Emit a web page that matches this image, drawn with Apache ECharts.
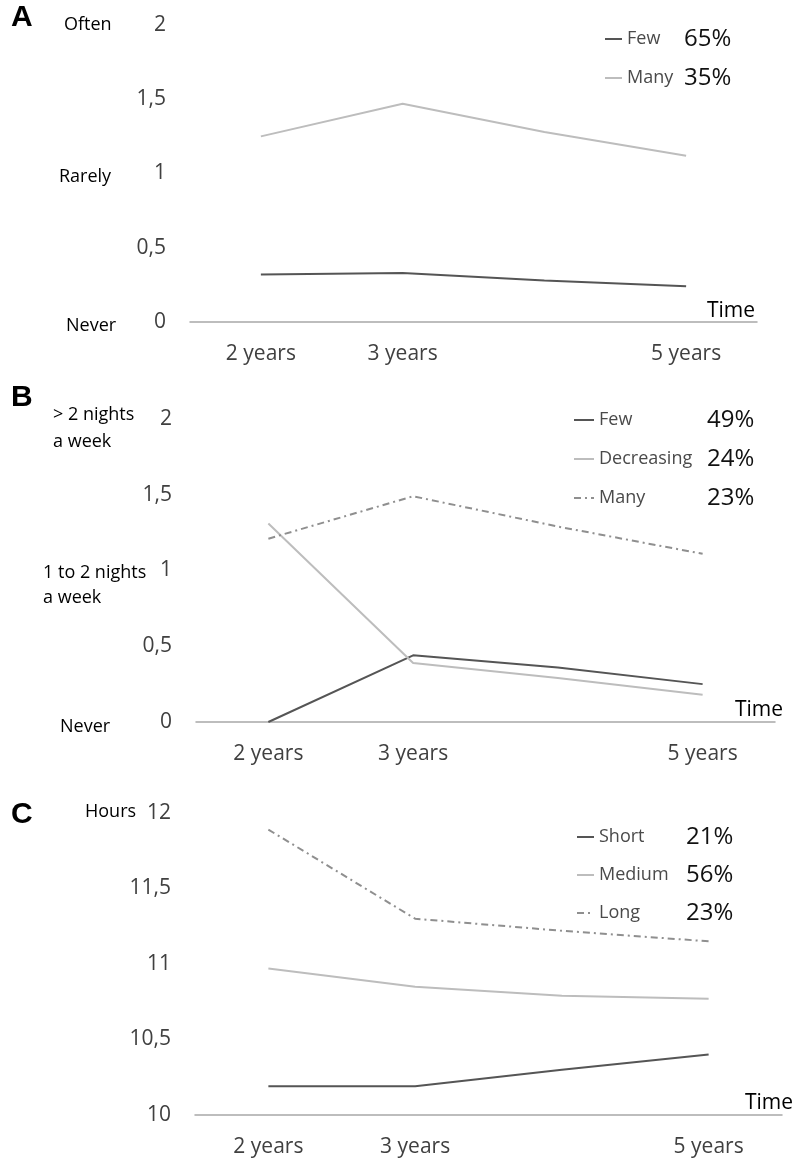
<!DOCTYPE html>
<html>
<head>
<meta charset="utf-8">
<script src="https://cdn.jsdelivr.net/npm/echarts@6/dist/echarts.min.js"></script>
<style>
  html, body { margin: 0; padding: 0; background: #fff; }
  #chart { width: 796px; height: 1167px; }
</style>
</head>
<body>
<div id="chart"></div>
<script>
// ---- data ----
const categories = ['2 years', '3 years', '4 years', '5 years'];
const hiddenCategory = '4 years';

const A_few  = [0.32, 0.33, 0.28, 0.24];
const A_many = [1.25, 1.47, 1.28, 1.12];

const B_few        = [0, 0.44, 0.36, 0.25];
const B_decreasing = [1.31, 0.39, 0.29, 0.18];
const B_many       = [1.21, 1.49, 1.29, 1.11];

const C_short  = [10.19, 10.19, 10.30, 10.40];
const C_medium = [10.97, 10.85, 10.79, 10.77];
const C_long   = [11.89, 11.30, 11.22, 11.15];

const A_labels = ['Few', 'Many'];
const A_pcts   = ['65%', '35%'];
const B_labels = ['Few', 'Decreasing', 'Many'];
const B_pcts   = ['49%', '24%', '23%'];
const C_labels = ['Short', 'Medium', 'Long'];
const C_pcts   = ['21%', '56%', '23%'];

const A_ticks = { min: 0, max: 2, interval: 0.5 };
const B_ticks = { min: 0, max: 2, interval: 0.5 };
const C_ticks = { min: 10, max: 12, interval: 0.5 };

// ---- styling ----
const FONT = '"Open Sans", "Liberation Sans", sans-serif';
const DARK = '#555555';
const LIGHT = '#bdbdbd';
const MID = '#8f8f8f';
const DASHDOT = [7, 4, 2, 4];

const grids = [
  { left: 190, top: 25,  width: 567, height: 297 },
  { left: 196, top: 419, width: 579, height: 303 },
  { left: 195, top: 813, width: 587, height: 302 }
];

function xAxisFor(i) {
  return {
    type: 'category', gridIndex: i, data: categories, boundaryGap: true,
    axisLine: { show: true, lineStyle: { color: '#a8a8a8', width: 1.5 } },
    axisTick: { show: false },
    splitLine: { show: false },
    axisLabel: {
      interval: 0, margin: 22, color: '#404040', fontSize: 21, fontFamily: FONT,
      formatter: v => (v === hiddenCategory ? '' : v)
    }
  };
}
function yAxisFor(i, t) {
  return {
    type: 'value', gridIndex: i, min: t.min, max: t.max, interval: t.interval,
    axisLine: { show: false }, axisTick: { show: false }, splitLine: { show: false },
    axisLabel: {
      margin: 24, color: '#404040', fontSize: 21, fontFamily: FONT,
      formatter: v => String(v).replace('.', ',')
    }
  };
}
function lineSeries(id, i, data, color, type) {
  return {
    name: id, type: 'line', xAxisIndex: i, yAxisIndex: i, data: data,
    symbol: 'none', showSymbol: false, smooth: false, silent: true,
    lineStyle: { color: color, width: 2, type: type || 'solid' },
    itemStyle: { color: color }
  };
}
function legendFor(ids, labels, pcts, left, top, itemWidth, nameWidth, gap) {
  const map = {};
  ids.forEach((id, k) => { map[id] = '{n|' + labels[k] + '}{p|' + pcts[k] + '}'; });
  return {
    orient: 'vertical', left: left, top: top, padding: 0,
    itemWidth: itemWidth, itemHeight: 14, itemGap: gap,
    selectedMode: false,
    itemStyle: { color: 'transparent', borderColor: 'transparent', borderWidth: 0, opacity: 0 },
    data: ids,
    formatter: name => map[name],
    textStyle: {
      rich: {
        n: { fontSize: 18, color: '#4a4a4a', fontFamily: FONT, width: nameWidth, lineHeight: 28 },
        p: { fontSize: 24, color: '#111', fontFamily: FONT, lineHeight: 28 }
      }
    }
  };
}
function txt(text, x, y, size, opts) {
  opts = opts || {};
  return {
    type: 'text', silent: true, x: x, y: y,
    style: {
      text: text, fill: opts.fill || '#000',
      font: (opts.weight || 'normal') + ' ' + size + 'px ' + (opts.family || FONT),
      align: opts.align || 'left', verticalAlign: 'middle',
      textAlign: opts.align || 'left', textVerticalAlign: 'middle'
    }
  };
}

const option = {
  backgroundColor: '#ffffff',
  animation: false,
  grid: grids,
  xAxis: [xAxisFor(0), xAxisFor(1), xAxisFor(2)],
  yAxis: [yAxisFor(0, A_ticks), yAxisFor(1, B_ticks), yAxisFor(2, C_ticks)],
  legend: [
    legendFor(['A Few', 'A Many'], A_labels, A_pcts, 604, 27, 17, 57, 15),
    legendFor(['B Few', 'B Decreasing', 'B Many'], B_labels, B_pcts, 573, 408, 20, 108, 15),
    legendFor(['C Short', 'C Medium', 'C Long'], C_labels, C_pcts, 576, 825, 17, 87, 14)
  ],
  series: [
    lineSeries('A Few', 0, A_few, DARK),
    lineSeries('A Many', 0, A_many, LIGHT),
    lineSeries('B Few', 1, B_few, DARK),
    lineSeries('B Decreasing', 1, B_decreasing, LIGHT),
    lineSeries('B Many', 1, B_many, MID, DASHDOT),
    lineSeries('C Short', 2, C_short, DARK),
    lineSeries('C Medium', 2, C_medium, LIGHT),
    lineSeries('C Long', 2, C_long, MID, DASHDOT)
  ],
  graphic: [
    txt('A', 11, 18, 30, { weight: 'bold', family: '"Liberation Sans", Arial, sans-serif', fill: '#000' }),
    txt('B', 11, 398, 30, { weight: 'bold', family: '"Liberation Sans", Arial, sans-serif', fill: '#000' }),
    txt('C', 11, 815, 30, { weight: 'bold', family: '"Liberation Sans", Arial, sans-serif', fill: '#000' }),
    txt('Often', 64, 25, 18),
    txt('Rarely', 59, 177, 18),
    txt('Never', 66, 326, 18),
    txt('> 2 nights', 53, 415, 18),
    txt('a week', 53, 442, 18),
    txt('1 to 2 nights', 43, 573, 18),
    txt('a week', 43, 598, 18),
    txt('Never', 60, 727, 18),
    txt('Hours', 85, 812, 18),
    txt('Time', 755, 311, 21, { align: 'right' }),
    txt('Time', 783, 710, 21, { align: 'right' }),
    txt('Time', 793, 1103, 21, { align: 'right' })
  ]
};

const chart = echarts.init(document.getElementById('chart'), null, { renderer: 'canvas' });
chart.setOption(option);
</script>
</body>
</html>
